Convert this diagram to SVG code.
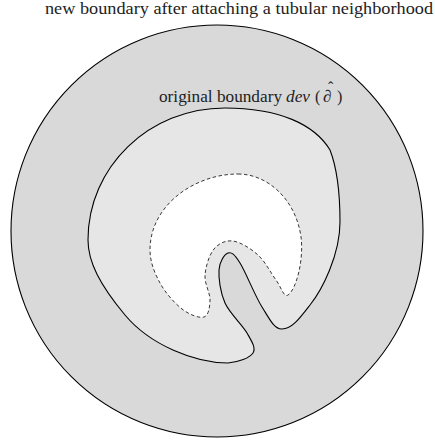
<svg xmlns="http://www.w3.org/2000/svg" width="435" height="443" viewBox="0 0 435 443">
<style>
.lbl{font-family:"Liberation Serif","Times New Roman",serif;font-size:16px;fill:#222}
.it{font-style:italic}
.outer{fill:#d9d9d9;stroke:#000;stroke-width:1.1}
.orig{fill:#e6e6e6;stroke:#000;stroke-width:1.1}
.inner{fill:#fff;stroke:#222;stroke-width:0.9;stroke-dasharray:3.5 2.5}
</style>
<g id="tubular-neighborhood">
<circle class="outer" cx="217" cy="231" r="206"/>
</g>
<g id="original-region">
<path class="orig" d="M225,108 C280,108 315,125 330,150 C337,168 340,195 340,222 C340,255 322,290 310,305 C300,318 292,329 282,329 C274,329.3 269,318 262,307 C255,296 245.7,272 240,263 C234.3,254 231.5,251.8 228,253 C224.5,254.2 219.5,261.7 219,270 C218.5,278.3 220.3,292.5 225,303 C229.7,313.5 242.3,324.7 247,333 C251.7,341.3 256.2,348 253,353 C249.8,358 238.5,362.2 228,363 C195,363 150,345 125,315 C100,285 88,262 88,240 C88,167 149,108 225,108 Z"/>
</g>
<g id="inner-region">
<path class="inner" d="M238,174 C268,174 296,200 301,237 C304,260 296,290 288,295 C283.8,298 281,286.7 276,280 C271,273.3 265.2,261.5 258,255 C250.8,248.5 240.3,242 233,241 C225.7,240 218.7,243.3 214,249 C209.3,254.7 205.7,266.5 205,275 C204.3,283.5 210.2,293 210,300 C209.8,307 208.7,315.5 204,317 C199.3,318.5 189.3,314.7 182,309 C174.7,303.3 165.3,292.8 160,283 C154.7,273.2 150,262 150,250 C150,205 195,174 238,174 Z"/>
</g>
<g id="label-new">
<text class="lbl" x="45" y="14" textLength="388" lengthAdjust="spacingAndGlyphs">new boundary after attaching a tubular neighborhood</text>
</g>
<g id="label-original">
<text class="lbl" x="159" y="102" textLength="123" lengthAdjust="spacingAndGlyphs">original boundary</text>
<text class="lbl" x="286" y="102"><tspan class="it" textLength="24" lengthAdjust="spacingAndGlyphs">dev</tspan><tspan x="315">(</tspan><tspan class="it" x="323" style="font-size:17px">∂</tspan><tspan x="328" dy="-9">ˆ</tspan><tspan x="337" dy="9">)</tspan></text>
</g>
</svg>
